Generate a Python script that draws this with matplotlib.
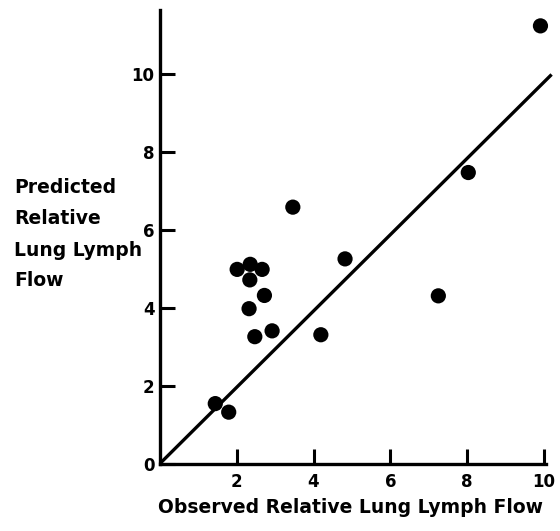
import numpy as np
import matplotlib
matplotlib.use('Agg')
import matplotlib.pyplot as plt

# observed vs predicted relative lung lymph flow
observed = [9.91, 8.03, 3.46, 4.82, 2.01, 2.35, 2.66, 2.34, 2.72, 2.32, 7.25, 2.92, 2.47, 4.19, 1.44, 1.79]
predicted = [11.25, 7.48, 6.59, 5.26, 4.99, 5.12, 4.99, 4.72, 4.32, 3.98, 4.31, 3.41, 3.26, 3.31, 1.54, 1.32]

# identity line as drawn
line_x = [0, 10.2]
line_y = [0, 10.0]

x_ticks = [2, 4, 6, 8, 10]
y_ticks = [0, 2, 4, 6, 8, 10]

plt.rcParams['font.family'] = ['DejaVu Sans']
plt.rcParams['font.weight'] = 'bold'

fig = plt.figure(figsize=(5.6, 5.31), dpi=100)
ax = fig.add_axes([0.2857, 0.1271, 0.689, 0.8535])

ax.plot(line_x, line_y, color='black', lw=2.4, clip_on=False, solid_capstyle='butt')
ax.scatter(observed, predicted, s=120, color='black', zorder=3, clip_on=False, edgecolors='none')

ax.set_xlim(0, 10.05)
ax.set_ylim(0, 11.65)
ax.set_xticks(x_ticks)
ax.set_yticks(y_ticks)
ax.set_xticklabels([str(t) for t in x_ticks], fontsize=12, fontweight='bold')
ax.set_yticklabels([str(t) for t in y_ticks], fontsize=12, fontweight='bold')
ax.tick_params(axis='both', direction='in', length=11, width=2.2, colors='black')
ax.tick_params(axis='x', pad=7)
ax.tick_params(axis='y', pad=4)

for side in ['top', 'right']:
    ax.spines[side].set_visible(False)
for side in ['left', 'bottom']:
    ax.spines[side].set_linewidth(2.4)

fig.text(0.283, 0.045, 'Observed Relative Lung Lymph Flow', fontsize=13.5, fontweight='bold',
         ha='left', va='center')
ylab = ['Predicted', 'Relative', 'Lung Lymph', 'Flow']
for i, s in enumerate(ylab):
    fig.text(0.025, 1 - (188 + 31 * i) / 531, s, fontsize=13.5, fontweight='bold',
             ha='left', va='center')

fig.savefig('out.png', dpi=100)
